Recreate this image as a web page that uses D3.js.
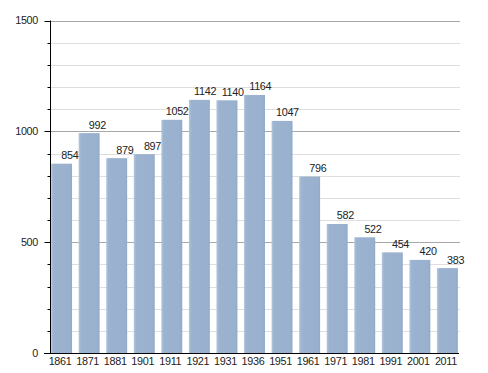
<!DOCTYPE html>
<html>
<head>
<meta charset="utf-8">
<script src="https://cdn.jsdelivr.net/npm/d3@7"></script>
<style>
  body { margin: 0; background: #fff; }
  text { font-family: "Liberation Sans", Arial, sans-serif; fill: #222; font-size: 10.8px; letter-spacing: -0.3px; }
</style>
</head>
<body>
<div id="chart"></div>
<script>
// census years and population
var years = ['1861', '1871', '1881', '1901', '1911', '1921', '1931', '1936', '1951', '1961', '1971', '1981', '1991', '2001', '2011'];
var population = [854, 992, 879, 897, 1052, 1142, 1140, 1164, 1047, 796, 582, 522, 454, 420, 383];
var majorTicks = [0, 500, 1000, 1500];
var minorTicks = d3.range(0, 1501, 100);

var width = 488, height = 373;
var plotLeft = 50, plotRight = 459, plotTop = 20.5, plotBottom = 353;

var svg = d3.select('#chart').append('svg')
  .attr('width', width)
  .attr('height', height);

var x = d3.scaleBand()
  .domain(years)
  .range([plotLeft, plotRight])
  .paddingInner(0.24)
  .paddingOuter(0.04);

var y = d3.scaleLinear()
  .domain([0, 1500])
  .range([plotBottom, plotTop]);

// bar gradient - light left edge, slight shade on right
var defs = svg.append('defs');
var grad = defs.append('linearGradient').attr('id', 'barGrad')
  .attr('x1', '0%').attr('x2', '100%').attr('y1', '0%').attr('y2', '0%');
grad.append('stop').attr('offset', '0%').attr('stop-color', '#b3c6dc');
grad.append('stop').attr('offset', '12%').attr('stop-color', '#9bb3cf');
grad.append('stop').attr('offset', '88%').attr('stop-color', '#99b1ce');
grad.append('stop').attr('offset', '100%').attr('stop-color', '#93abc8');

// gridlines
svg.append('g').selectAll('line')
  .data(minorTicks.filter(function(d) { return d > 0; }))
  .enter().append('line')
  .attr('x1', plotLeft).attr('x2', 460)
  .attr('y1', function(d) { return Math.round(y(d)) + 0.5; })
  .attr('y2', function(d) { return Math.round(y(d)) + 0.5; })
  .attr('stroke', function(d) { return d % 500 === 0 ? '#a8a8a8' : '#dedede'; })
  .attr('stroke-width', 1);

// bars
svg.append('g').selectAll('rect')
  .data(population)
  .enter().append('rect')
  .attr('x', function(d, i) { return x(years[i]); })
  .attr('y', function(d) { return y(d); })
  .attr('width', x.bandwidth())
  .attr('height', function(d) { return plotBottom - y(d); })
  .attr('fill', 'url(#barGrad)');

// value labels
svg.append('g').selectAll('text')
  .data(population)
  .enter().append('text')
  .attr('x', function(d, i) { return x(years[i]) + x.bandwidth() + 6.3; })
  .attr('y', function(d) { return y(d) - 4.5; })
  .attr('text-anchor', 'end')
  .text(function(d) { return d; });

// y axis
var yAxis = svg.append('g');
yAxis.append('line')
  .attr('x1', plotLeft + 0.5).attr('x2', plotLeft + 0.5)
  .attr('y1', plotTop).attr('y2', plotBottom)
  .attr('stroke', '#000');
yAxis.selectAll('line.tick')
  .data(minorTicks)
  .enter().append('line')
  .attr('class', 'tick')
  .attr('x1', function(d) { return d % 500 === 0 ? 44.5 : 47.5; })
  .attr('x2', plotLeft + 1)
  .attr('y1', function(d) { return Math.round(y(d)) + 0.5; })
  .attr('y2', function(d) { return Math.round(y(d)) + 0.5; })
  .attr('stroke', '#000');
yAxis.selectAll('text')
  .data(majorTicks)
  .enter().append('text')
  .attr('x', 38)
  .attr('y', function(d) { return y(d); })
  .attr('dy', '0.35em')
  .attr('text-anchor', 'end')
  .text(function(d) { return d; });

// x axis
svg.append('line')
  .attr('x1', 44).attr('x2', 459)
  .attr('y1', plotBottom + 0.5).attr('y2', plotBottom + 0.5)
  .attr('stroke', '#000');
svg.append('g').selectAll('text')
  .data(years)
  .enter().append('text')
  .attr('x', function(d) { return x(d) + x.bandwidth() / 2 - 1.5; })
  .attr('y', 365)
  .attr('text-anchor', 'middle')
  .text(function(d) { return d; });
</script>
</body>
</html>
